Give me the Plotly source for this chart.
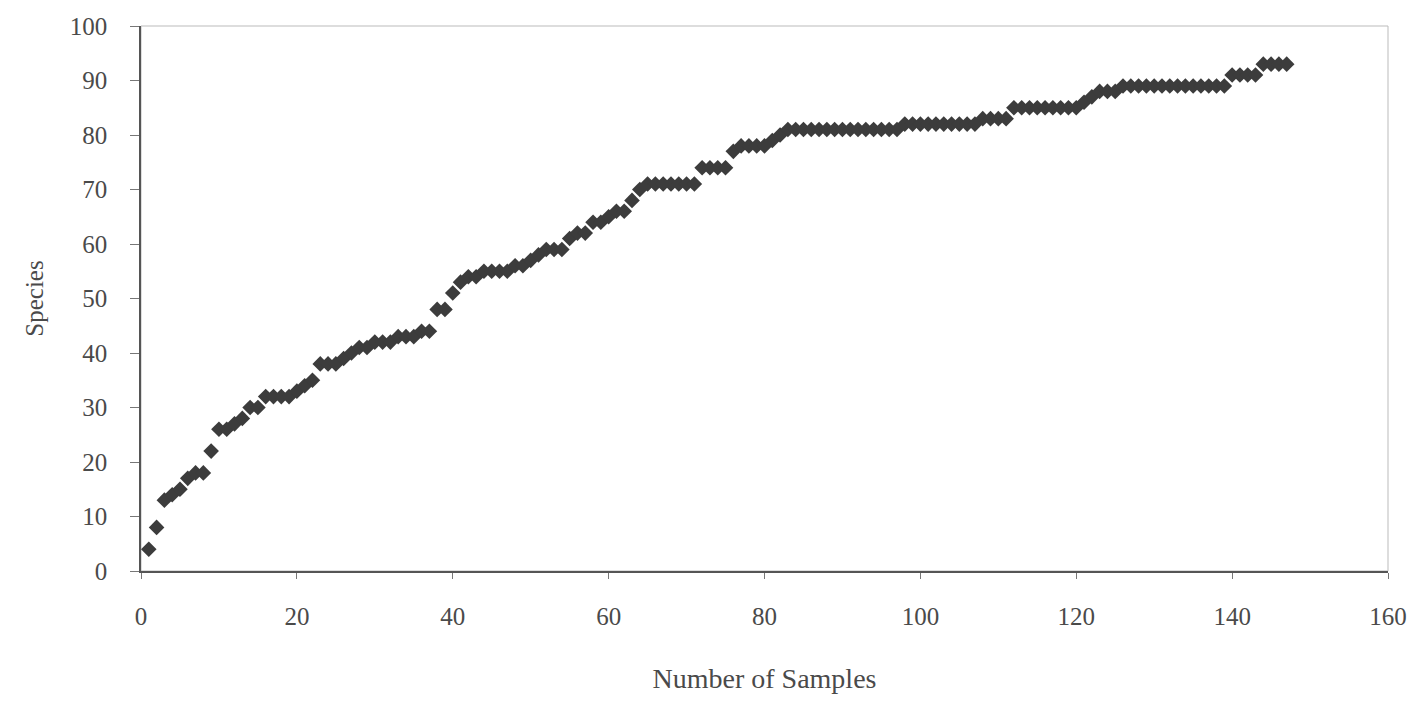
import plotly.graph_objects as go

species = [4, 8, 13, 14, 15, 17, 18, 18, 22, 26,
           26, 27, 28, 30, 30, 32, 32, 32, 32, 33,
           34, 35, 38, 38, 38, 39, 40, 41, 41, 42,
           42, 42, 43, 43, 43, 44, 44, 48, 48, 51,
           53, 54, 54, 55, 55, 55, 55, 56, 56, 57,
           58, 59, 59, 59, 61, 62, 62, 64, 64, 65,
           66, 66, 68, 70, 71, 71, 71, 71, 71, 71,
           71, 74, 74, 74, 74, 77, 78, 78, 78, 78,
           79, 80, 81, 81, 81, 81, 81, 81, 81, 81,
           81, 81, 81, 81, 81, 81, 81, 82, 82, 82,
           82, 82, 82, 82, 82, 82, 82, 83, 83, 83,
           83, 85, 85, 85, 85, 85, 85, 85, 85, 85,
           86, 87, 88, 88, 88, 89, 89, 89, 89, 89,
           89, 89, 89, 89, 89, 89, 89, 89, 89, 91,
           91, 91, 91, 93, 93, 93, 93]
samples = list(range(1, len(species) + 1))

x_ticks = [0, 20, 40, 60, 80, 100, 120, 140, 160]
y_ticks = [0, 10, 20, 30, 40, 50, 60, 70, 80, 90, 100]

font_family = "Liberation Serif"
text_color = "#4a4a4a"

fig = go.Figure()
fig.add_trace(go.Scatter(
    x=samples, y=species, mode="markers",
    marker=dict(symbol="diamond", size=12, color="#3c3c3c",
                line=dict(width=0)),
    showlegend=False,
))

fig.update_layout(
    width=1424, height=701,
    margin=dict(l=141, r=36, t=26, b=130),
    paper_bgcolor="white", plot_bgcolor="white",
    font=dict(family=font_family, size=25, color=text_color),
    xaxis=dict(
        range=[0, 160], tickvals=x_ticks, showgrid=False, zeroline=False,
        showline=True, linecolor="#555555", linewidth=1.5,
        ticks="outside", ticklen=6, tickcolor="#777777",
        ticklabelstandoff=16,
        tickfont=dict(size=25),
        title=dict(text="Number of Samples", standoff=40,
                   font=dict(family=font_family, size=28, color=text_color)),
    ),
    yaxis=dict(
        range=[0, 100], tickvals=y_ticks, showgrid=False, zeroline=False,
        showline=True, linecolor="#555555", linewidth=1.5,
        ticks="outside", ticklen=9, tickcolor="#777777",
        ticklabelstandoff=18,
        tickfont=dict(size=25),
        title=dict(text="Species", standoff=19,
                   font=dict(family=font_family, size=25, color=text_color)),
    ),
)

# light plot-area border (top and right), as in the reference
fig.add_shape(type="rect", xref="paper", yref="paper", x0=0, y0=0, x1=1, y1=1,
              line=dict(color="#bbbbbb", width=1), layer="below")

fig.write_html("out.html")
